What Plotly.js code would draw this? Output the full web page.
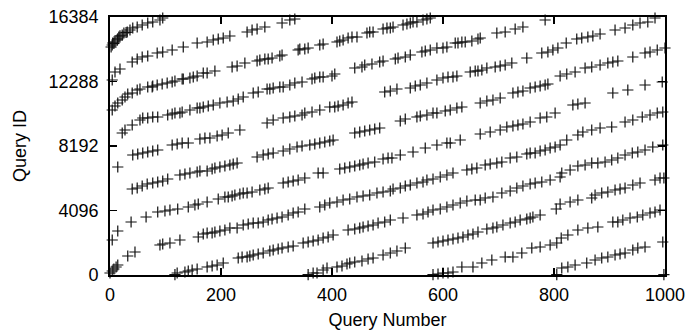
<!DOCTYPE html>
<html>
<head>
<meta charset="utf-8">
<script src="https://cdn.plot.ly/plotly-3.0.1.min.js"></script>
<style>html,body{margin:0;padding:0;background:#fff;}#chart{width:699px;height:333px;}</style>
</head>
<body>
<div id="chart"></div>
<script>
// Axis ticks
const xTicks = [0, 200, 400, 600, 800, 1000];
const yTicks = [0, 4096, 8192, 12288, 16384];
const yTickText = ["0", "4096", "8192", "12288", "16384"];

// Query Number / Query ID
const bandA_q = [2,4,5,7,9,13,14,16,18,22,25,29,31,36,41,49,58,68,77,90,95];
const bandA_id = [14478,14605,14732,14700,14796,14923,15000,15113,15180,15240,15367,15400,15431,15558,15685,15748,15875,16002,16066,16193,16320];

const bandB_q = [4,9,18,40,49,58,68,85,95,112,132,157,175,186,195,204,216,247,256,265,279,310,324,333];
const bandB_id = [12383,12891,13081,13526,13716,13843,13907,14097,14161,14288,14478,14732,14796,14923,14986,15050,15177,15431,15558,15621,15748,16002,16193,16256];

const bandC_q = [4,9,14,22,27,32,40,49,54,68,76,77,85,94,103,112,117,130,132,144,150,157,168,175,189,220,229,243,265,270,279,285,292,306,310,339,342,351,357,378,384,409,414,420,429,436,445,463,468,474,492,499,505,510,528,535,541,546,553,564,571,577];
const bandC_id = [10478,10732,10922,11113,11303,11494,11557,11748,11811,11938,11938,12002,12065,12129,12192,12256,12319,12446,12446,12510,12573,12637,12827,12827,12954,13208,13272,13462,13589,13653,13716,13716,13780,13907,13970,14288,14351,14351,14415,14605,14669,14796,14859,14923,15050,15113,15113,15367,15431,15431,15621,15685,15685,15748,15875,15939,16002,16066,16066,16193,16256,16320];

const bandD_q = [22,27,40,54,59,68,77,86,104,112,117,126,130,144,157,162,168,177,186,198,211,222,231,240,258,267,283,288,294,306,312,324,333,346,364,369,378,384,400,405,441,454,459,472,486,492,514,519,532,541,562,568,577,589,600,607,622,627,634,640,652,663,667,697,712,730,744,784];
const bandD_id = [9017,9208,9525,9843,9970,9970,10033,10033,10160,10224,10287,10287,10351,10478,10605,10605,10668,10732,10795,10922,10986,11049,11176,11303,11557,11621,11811,11811,11875,11938,11938,12065,12192,12256,12446,12510,12573,12573,12637,12764,13145,13208,13335,13399,13526,13589,13716,13780,13843,13970,14161,14224,14288,14415,14415,14478,14732,14732,14796,14796,14859,14986,15050,15367,15431,15621,15748,16193];

const bandE_q = [14,41,50,59,68,77,86,112,121,130,141,162,171,180,193,202,213,234,283,294,312,324,333,346,351,364,378,396,405,411,420,429,436,495,505,517,541,550,559,571,589,600,609,618,625,649,658,663,670,679,694,703,712,724,751,778,789,798,807,822,841,850,861,870,883,910,928,942,955,969,982];
const bandE_id = [6858,7620,7684,7747,7811,7874,7938,8255,8319,8382,8382,8636,8700,8700,8827,8890,9017,9208,9652,9843,9970,10033,10097,10160,10287,10351,10478,10668,10668,10732,10795,10922,10986,11621,11684,11811,11875,12002,12065,12192,12383,12510,12573,12573,12637,12891,12954,12954,13018,13145,13208,13272,13335,13462,13780,14097,14161,14288,14415,14732,14986,15050,15113,15177,15304,15558,15685,15875,16002,16066,16320];

const bandF_q = [40,49,58,67,77,86,95,104,126,135,144,157,162,175,184,189,198,207,216,222,229,265,276,285,294,312,324,337,346,360,369,378,387,396,402,441,450,459,468,477,486,523,532,553,559,571,582,589,604,613,625,634,667,679,690,703,726,735,744,757,766,775,784,789,811,823,838,856,868,883,897,906,915,942,964,973,986,1000];
const bandF_id = [5461,5525,5652,5779,5842,5906,5969,6096,6350,6414,6477,6541,6604,6604,6731,6795,6858,6922,6985,7049,7112,7493,7620,7684,7747,7874,8001,8128,8192,8255,8319,8382,8446,8509,8573,9017,9081,9144,9208,9271,9335,9779,9906,10033,10097,10160,10287,10287,10414,10478,10605,10668,10922,11049,11113,11240,11557,11621,11684,11875,11938,12002,12065,12129,12637,12764,12891,13145,13208,13335,13462,13526,13589,13843,14097,14161,14288,14415];

const bandG_q = [4,14,38,65,86,99,108,122,141,153,159,175,195,207,213,220,225,234,240,247,256,270,279,285,312,321,330,339,351,375,384,414,423,432,441,450,456,465,477,492,501,508,523,546,568,589,607,613,631,667,685,703,715,726,735,744,757,775,787,802,834,843,856,906,933,964,995];
const bandG_id = [2223,2794,3366,3683,4001,4064,4128,4191,4318,4445,4509,4636,4826,4953,4953,5017,5080,5144,5207,5207,5271,5398,5461,5525,5842,5906,5969,6033,6160,6477,6477,6731,6795,6858,6922,6985,7049,7112,7176,7366,7430,7430,7620,7811,8065,8255,8382,8382,8573,8954,9081,9208,9398,9462,9525,9589,9716,9970,10033,10287,10795,10859,10922,11557,11748,12065,12256];

const bandH_q = [0,4,7,11,14,32,45,90,95,108,126,159,168,175,184,189,198,207,216,229,240,249,258,267,276,285,292,301,310,321,330,339,351,378,387,396,409,420,432,445,456,468,481,492,505,510,523,532,541,553,564,571,582,595,607,618,643,652,661,676,685,697,706,721,733,751,757,766,775,784,793,802,811,823,843,852,868,883,904,928,942,959,973,986,996];
const bandH_id = [127,254,381,508,635,1207,1461,1905,1969,2032,2223,2413,2604,2667,2667,2731,2794,2858,2985,2985,3175,3239,3302,3302,3366,3493,3556,3620,3683,3810,3937,4001,4191,4318,4445,4572,4636,4763,4826,4953,5017,5080,5207,5271,5334,5461,5525,5652,5715,5842,5906,6033,6096,6223,6350,6477,6668,6731,6795,6985,7049,7112,7176,7430,7493,7684,7747,7747,7874,7938,8065,8128,8255,8573,8890,9081,9208,9335,9398,9716,9843,10033,10160,10287,10351];

const bandW1_q = [117,121,135,141,148,157,175,184,193,204,231,238,247,252,258,267,276,288,294,303,310,321,330,348,357,366,375,384,393,402,429,441,450,456,465,474,483,495,505,528,553,564,573,582,595,607,618,631,643,658,667,676,690,706,721,733,744,757,766,778,793,811,814,829,843,856,868,879,892,904,915,928,941,951,964,978,996];
const bandW1_id = [30,127,191,254,318,381,508,572,635,762,1080,1143,1143,1207,1270,1334,1397,1524,1588,1651,1715,1778,1842,2032,2096,2159,2223,2350,2413,2540,2858,2921,2985,3048,3112,3175,3302,3366,3493,3620,3810,3874,4001,4128,4191,4318,4445,4572,4699,4763,4763,4890,4953,5207,5334,5525,5652,5779,5842,5906,6033,6223,6477,6668,6922,6985,7112,7112,7176,7303,7430,7620,7747,7811,7938,8128,8255];

const bandW2_q = [357,366,373,384,391,409,418,427,432,441,454,465,474,492,505,517,532,582,591,600,609,618,627,636,645,654,663,679,690,697,708,721,730,739,751,757,762,775,804,811,829,843,868,874,886,897,910,919,928,942,955,982,991,998];
const bandW2_id = [30,127,127,318,445,508,572,699,762,826,889,1016,1080,1270,1397,1524,1715,2032,2096,2159,2223,2286,2350,2413,2540,2604,2731,2921,2985,3048,3175,3302,3366,3493,3556,3620,3683,3810,4191,4509,4636,4763,4890,5080,5207,5271,5398,5461,5525,5715,5842,6033,6160,6160];

const bandW3_q = [582,591,600,609,618,634,654,670,688,712,726,742,760,775,793,805,813,825,843,861,879,906,915,924,937,950,960,973,982,991];
const bandW3_id = [30,64,127,127,191,508,508,762,953,1143,1143,1397,1715,1778,1905,2032,2350,2540,2858,2985,3048,3366,3366,3493,3620,3683,3810,3937,4001,4128];

const bandW4_q = [805,814,825,838,859,874,886,897,910,919,928,942,951,964,996];
const bandW4_id = [20,445,508,635,762,953,1080,1143,1270,1334,1397,1588,1715,1778,2096];

const bandW5_q = [998];
const bandW5_id = [20];

const bands = [
  [bandA_q, bandA_id], [bandB_q, bandB_id], [bandC_q, bandC_id], [bandD_q, bandD_id],
  [bandE_q, bandE_id], [bandF_q, bandF_id], [bandG_q, bandG_id], [bandH_q, bandH_id],
  [bandW1_q, bandW1_id], [bandW2_q, bandW2_id], [bandW3_q, bandW3_id], [bandW4_q, bandW4_id],
  [bandW5_q, bandW5_id]
];

const traces = bands.map(b => ({
  type: 'scatter',
  mode: 'markers',
  x: b[0],
  y: b[1],
  cliponaxis: false,
  showlegend: false,
  hoverinfo: 'skip',
  marker: { symbol: 'cross-thin', size: 8, color: '#000', line: { width: 1.2, color: '#111' } }
}));

const fontFam = 'Liberation Sans, Arial, Helvetica, sans-serif';
const axisCommon = {
  ticks: 'inside',
  ticklen: 7,
  tickwidth: 1.3,
  tickcolor: '#000',
  showline: true,
  linecolor: '#000',
  linewidth: 1.8,
  mirror: 'ticks',
  showgrid: false,
  zeroline: false,
  tickfont: { family: fontFam, size: 18, color: '#000' },
  automargin: false
};

const layout = {
  width: 699,
  height: 333,
  margin: { l: 110, r: 34, t: 17, b: 58 },
  paper_bgcolor: '#fff',
  plot_bgcolor: '#fff',
  font: { family: fontFam, size: 18, color: '#000' },
  xaxis: Object.assign({}, axisCommon, {
    range: [0, 1000],
    tickmode: 'array',
    tickvals: xTicks,
    ticklabelstandoff: 3,
    title: { text: 'Query Number', font: { family: fontFam, size: 18, color: '#000' }, standoff: 9 }
  }),
  yaxis: Object.assign({}, axisCommon, {
    range: [0, 16384],
    tickmode: 'array',
    tickvals: yTicks,
    ticktext: yTickText,
    ticklabelstandoff: 6,
    title: { text: 'Query ID', font: { family: fontFam, size: 18, color: '#000' }, standoff: 17 }
  })
};

Plotly.newPlot('chart', traces, layout, { displayModeBar: false, staticPlot: true });
</script>
</body>
</html>
